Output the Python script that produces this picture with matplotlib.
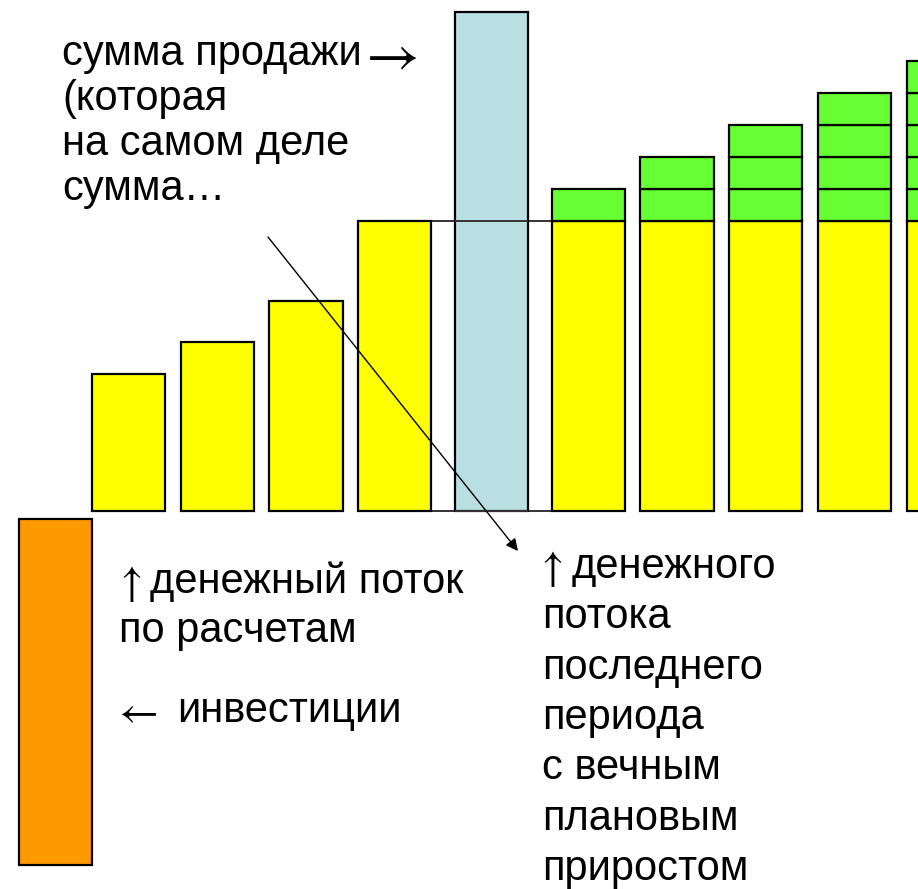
import matplotlib

matplotlib.use("Agg")
import matplotlib.pyplot as plt

# cash flows of the forecast periods (same units as the chart height)
forecast_flows = [137, 169, 210, 290]
sale_value = 499
investment = -346
investment_gap = -8
# last-period flow with planned perpetual growth
growth_step = 32
growth_segments = [1, 2, 3, 4, 5]

label_sale = ["сумма продажи →", "(которая", "на самом деле", "сумма…"]
label_flow = ["↑ денежный поток", "по расчетам"]
label_invest = ["← инвестиции"]
label_terminal = ["↑ денежного", "потока", "последнего", "периода",
                  "с вечным", "плановым", "приростом"]

YELLOW = "#FFFF00"
GREEN = "#66FF33"
BLUE = "#BADFE3"
ORANGE = "#FF9900"
FAMILY = ["Liberation Sans", "DejaVu Sans"]
ARROWS = "←↑→"

W, H = 918, 889
fig = plt.figure(figsize=(W / 100, H / 100), dpi=100)
ax = fig.add_axes([0, 0, 1, 1])
step = 88.75
ax.set_xlim(0, W / step)
ax.set_ylim(-(H - 511), 511)
ax.axis("off")

width = 0.823
first = 1.448
gap = 1.09
edge = dict(edgecolor="black", linewidth=1.6)

flow_x = [first + i for i in range(len(forecast_flows))]
sale_x = flow_x[-1] + gap
tail_x = [sale_x + gap + i for i in range(len(growth_segments))]
invest_x = first - width

# bridge lines from the last forecast bar through the sale bar
left = flow_x[-1] + width / 2
right = tail_x[0] - width / 2
ax.hlines([0, forecast_flows[-1]], left, right, color="#333333", lw=1.4, zorder=1)

ax.bar(invest_x, investment, width, bottom=investment_gap, color=ORANGE, **edge, zorder=2)
ax.bar(flow_x, forecast_flows, width, color=YELLOW, **edge, zorder=2)
ax.bar(sale_x, sale_value, width, color=BLUE, **edge, zorder=2)
ax.hlines([0, forecast_flows[-1]], sale_x - width / 2, sale_x + width / 2,
          color="#333333", lw=1.4, zorder=3)
for x, n in zip(tail_x, growth_segments):
    ax.bar(x, forecast_flows[-1], width, color=YELLOW, **edge, zorder=2)
    for k in range(n):
        ax.bar(x, growth_step, width, bottom=forecast_flows[-1] + k * growth_step,
               color=GREEN, **edge, zorder=2)

# arrow from the sale note to the terminal-value note
ax.annotate("", xy=(518 / step, 511 - 551), xytext=(268 / step, 511 - 237),
            arrowprops=dict(arrowstyle="-|>", color="black", lw=1.0,
                            mutation_scale=18, shrinkA=0, shrinkB=0), zorder=4)

FS = 30


def word(s, x, y, **kw):
    fig.text(x / W, 1 - y / H, s, ha="left", va="baseline", **kw)


def put(lines, x, y0, dy, arrow_x, text_x):
    # arrows are drawn in STIX (thin, long like the slide font), words in Liberation
    for i, s in enumerate(lines):
        y = y0 + i * dy
        if s[0] in ARROWS:
            word(s[0], arrow_x, y + 2, fontsize=FS + 1, family="STIXGeneral")
            word(s[1:].strip(), text_x, y, fontsize=FS, family=FAMILY)
        elif s[-1] in ARROWS:
            word(s[:-1].rstrip(), x, y, fontsize=FS, family=FAMILY)
            word(s[-1], arrow_x, y + 8, fontsize=FS + 12, family="STIXGeneral")
        else:
            word(s, x, y, fontsize=FS, family=FAMILY)


put(label_sale, 62, 65, 45, 366, 0)
put(label_flow, 119, 593, 49, 120, 150)
put(label_invest, 119, 722, 0, 119, 177)
put(label_terminal, 542, 578, 50.3, 541, 572)

fig.savefig("out.png", dpi=100)
